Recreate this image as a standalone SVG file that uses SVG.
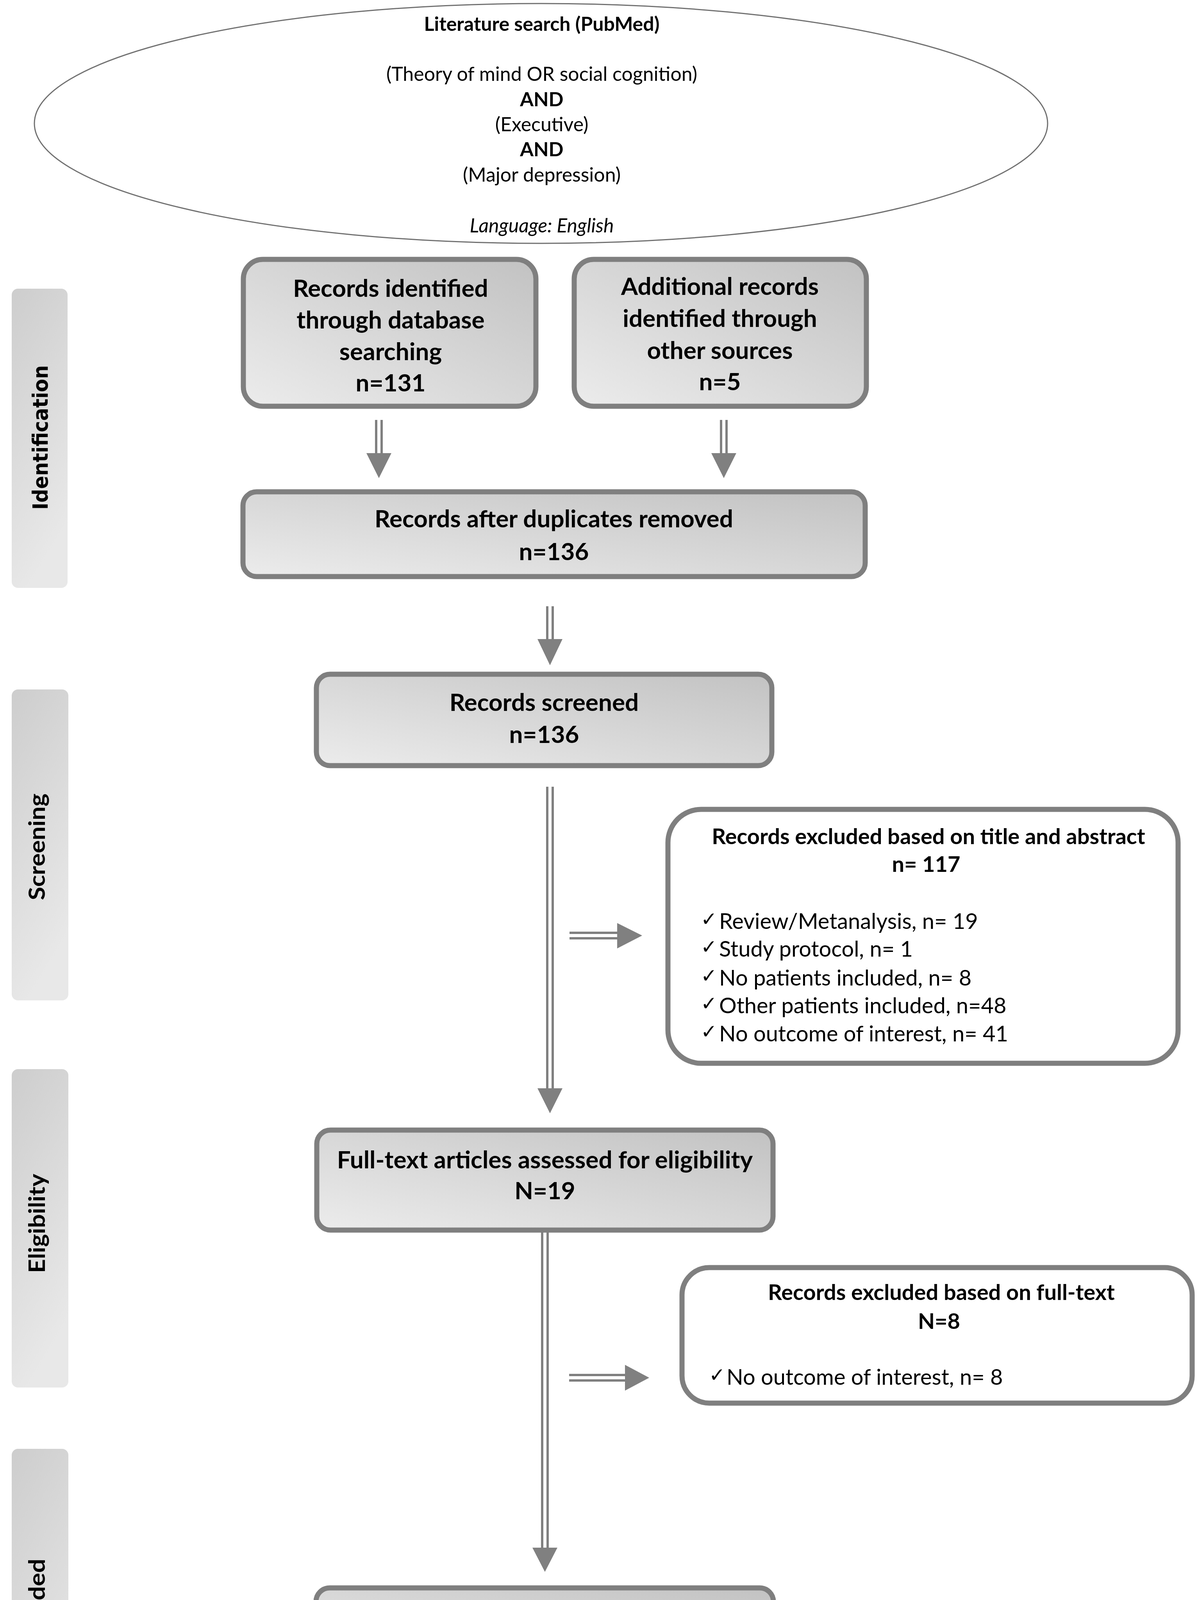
<svg xmlns="http://www.w3.org/2000/svg" width="3067" height="4590" viewBox="0 0 3067 4590">
<style>
text{font-family:Lato,"Liberation Sans",sans-serif;fill:#000}
.t{font-size:50px;text-anchor:middle}
.b{font-weight:bold}
.m{font-size:62px;font-weight:bold;text-anchor:middle}
.et{font-size:56px;font-weight:bold;text-anchor:middle}
.li{font-size:56px}
.chk{font-family:"DejaVu Sans",sans-serif;font-size:50px}
.side{font-size:58px;font-weight:bold;text-anchor:middle}
.box{fill:url(#g);stroke:#7f7f7f;stroke-width:13}
.ex{fill:#fff;stroke:#7f7f7f;stroke-width:13}
.bar{fill:url(#gs)}
.ln{stroke:#808080;stroke-width:6;fill:none}
.hd{fill:#808080}
</style>
<defs>
<linearGradient id="g" x1="0" y1="1" x2="1" y2="0">
<stop offset="0" stop-color="#ececec"/>
<stop offset="1" stop-color="#c2c2c2"/>
</linearGradient>
<linearGradient id="gs" x1="0" y1="0" x2="0.3" y2="1">
<stop offset="0" stop-color="#cdcdcd"/>
<stop offset="1" stop-color="#e8e8e8"/>
</linearGradient>
</defs>

<g id="sidebars">
<g id="side-identification">
<rect class="bar" x="30" y="739" width="143" height="766" rx="16"/>
<text style="font-family:'DejaVu Sans Condensed','DejaVu Sans',sans-serif;font-stretch:condensed;font-size:54px;font-weight:bold;text-anchor:middle" transform="translate(122,1120) rotate(-90)" textLength="370" lengthAdjust="spacingAndGlyphs">Identification</text>
</g>
<g id="side-screening">
<rect class="bar" x="30" y="1765" width="145" height="796" rx="16"/>
<text class="side" transform="translate(115,2168) rotate(-90)" textLength="273" lengthAdjust="spacingAndGlyphs">Screening</text>
</g>
<g id="side-eligibility">
<rect class="bar" x="30" y="2737" width="145" height="815" rx="16"/>
<text class="side" transform="translate(115,3132) rotate(-90)" textLength="254" lengthAdjust="spacingAndGlyphs">Eligibility</text>
</g>
<g id="side-included">
<rect class="bar" x="30" y="3709" width="145" height="871" rx="16"/>
<text class="side" transform="translate(115,4112) rotate(-90)" textLength="243" lengthAdjust="spacingAndGlyphs">Included</text>
</g>
</g>

<g id="search">
<ellipse cx="1385" cy="316" rx="1297" ry="307" fill="#fff" stroke="#707070" stroke-width="3"/>
<text class="t b" x="1387" y="79">Literature search (PubMed)</text>
<text class="t" x="1387" y="207">(Theory of mind OR social cognition)</text>
<text class="t b" x="1387" y="272">AND</text>
<text class="t" x="1387" y="336">(Executive)</text>
<text class="t b" x="1387" y="400">AND</text>
<text class="t" x="1387" y="465">(Major depression)</text>
<text class="t" x="1387" y="595" font-style="italic">Language: English</text>
</g>

<g id="db">
<rect class="box" x="623" y="664" width="749" height="376" rx="50"/>
<text class="m" x="1000" y="760">Records identified</text>
<text class="m" x="1000" y="841">through database</text>
<text class="m" x="1000" y="922">searching</text>
<text class="m" x="1000" y="1002">n=131</text>
</g>

<g id="other">
<rect class="box" x="1470" y="664" width="748" height="376" rx="50"/>
<text class="m" x="1843" y="755">Additional records</text>
<text class="m" x="1843" y="837">identified through</text>
<text class="m" x="1843" y="919">other sources</text>
<text class="m" x="1843" y="999">n=5</text>
</g>

<g id="dedup">
<rect class="box" x="622" y="1259" width="1593" height="217" rx="35"/>
<text class="m" x="1418" y="1350">Records after duplicates removed</text>
<text class="m" x="1418" y="1434">n=136</text>
</g>

<g id="screened">
<rect class="box" x="810" y="1726" width="1166" height="234" rx="35"/>
<text class="m" x="1393" y="1820">Records screened</text>
<text class="m" x="1393" y="1902">n=136</text>
</g>

<g id="excluded1">
<rect class="ex" x="1710" y="2072" width="1306" height="650" rx="85"/>
<text class="et" x="2377" y="2161">Records excluded based on title and abstract</text>
<text class="et" x="2371" y="2232">n= 117</text>
<text class="li" x="1794" y="2378"><tspan class="chk" dy="-8">✓</tspan><tspan x="1841" dy="8">Review/Metanalysis, n= 19</tspan></text>
<text class="li" x="1794" y="2449"><tspan class="chk" dy="-8">✓</tspan><tspan x="1841" dy="8">Study protocol, n= 1</tspan></text>
<text class="li" x="1794" y="2523"><tspan class="chk" dy="-8">✓</tspan><tspan x="1841" dy="8">No patients included, n= 8</tspan></text>
<text class="li" x="1794" y="2594"><tspan class="chk" dy="-8">✓</tspan><tspan x="1841" dy="8">Other patients included, n=48</tspan></text>
<text class="li" x="1794" y="2666"><tspan class="chk" dy="-8">✓</tspan><tspan x="1841" dy="8">No outcome of interest, n= 41</tspan></text>
</g>

<g id="fulltext">
<rect class="box" x="811" y="2893" width="1168" height="256" rx="35"/>
<text class="m" x="1395" y="2991">Full-text articles assessed for eligibility</text>
<text class="m" x="1395" y="3070">N=19</text>
</g>

<g id="excluded2">
<rect class="ex" x="1746" y="3245" width="1306" height="347" rx="70"/>
<text class="et" x="2410" y="3328">Records excluded based on full-text</text>
<text class="et" x="2404" y="3402">N=8</text>
<text class="li" x="1815" y="3545"><tspan class="chk" dy="-8">✓</tspan><tspan x="1860" dy="8">No outcome of interest, n= 8</tspan></text>
</g>

<g id="included">
<rect class="box" x="809" y="4065" width="1171" height="249" rx="35"/>
<text class="m" x="1395" y="4168">Studies included in the literature review</text>
<text class="m" x="1395" y="4246">N= 11</text>
</g>

<g id="connectors">
<path class="ln" d="M963 1075V1162M977 1075V1162"/>
<polygon class="hd" points="938,1160 1002,1160 970,1224"/>
<path class="ln" d="M1846 1075V1162M1860 1075V1162"/>
<polygon class="hd" points="1821,1160 1885,1160 1853,1224"/>
<path class="ln" d="M1401 1552V1638M1415 1552V1638"/>
<polygon class="hd" points="1376,1636 1440,1636 1408,1703"/>
<path class="ln" d="M1401 2014V2788M1415 2014V2788"/>
<polygon class="hd" points="1376,2786 1440,2786 1408,2850"/>
<path class="ln" d="M1388 3155V3964M1402 3155V3964"/>
<polygon class="hd" points="1363,3962 1427,3962 1395,4024"/>
<path class="ln" d="M1458 2388H1582M1458 2402H1582"/>
<polygon class="hd" points="1580,2363 1580,2428 1644,2395"/>
<path class="ln" d="M1457 3520H1602M1457 3534H1602"/>
<polygon class="hd" points="1600,3494 1600,3560 1662,3527"/>
</g>
</svg>
